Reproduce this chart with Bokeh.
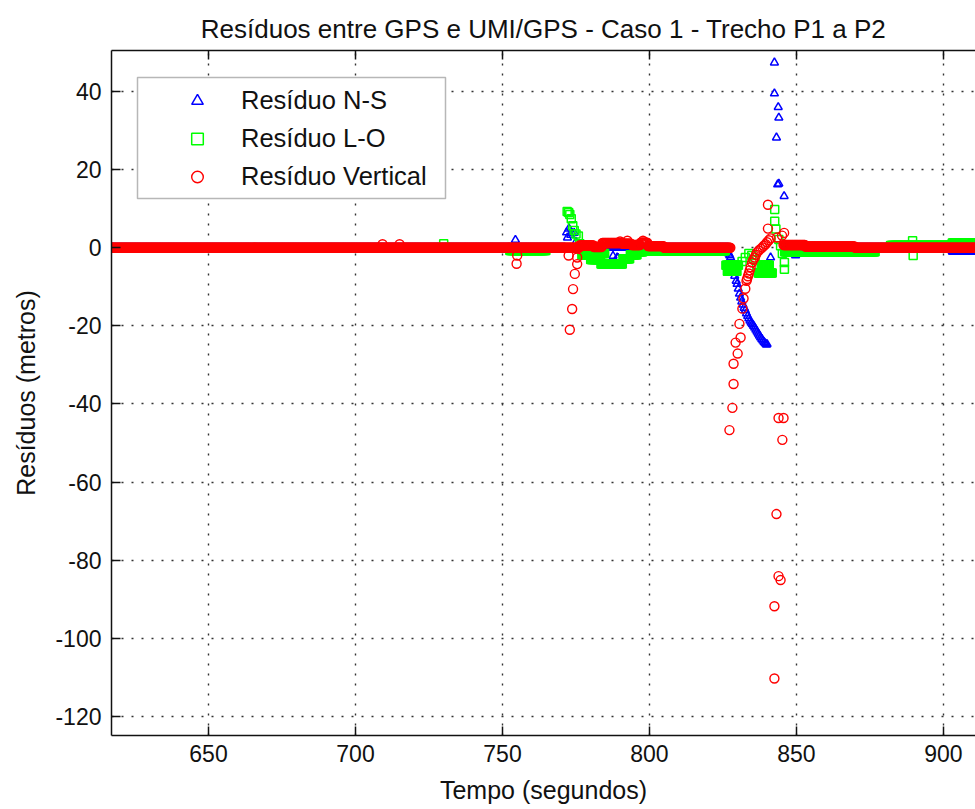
import numpy as np
from bokeh.plotting import figure
from bokeh.models import (BoxAnnotation, ColumnDataSource, FixedTicker, Legend,
                          LegendItem, LinearAxis, Range1d)
from bokeh.embed import file_html
from bokeh.resources import INLINE

# Logger sampling interval (s)
SAMPLE_DT = 0.25

X_TICKS = [650, 700, 750, 800, 850, 900]
Y_TICKS = [-120, -100, -80, -60, -40, -20, 0, 20, 40]
Y_TICK_LABELS = ["-120", "-100", "-80", "-60", "-40", "-20", "0", "20", "40"]

TITLE = "Resíduos entre GPS e UMI/GPS - Caso 1 - Trecho P1 a P2"
X_LABEL = "Tempo (segundos)"
Y_LABEL = "Resíduos (metros)"
SERIES_NAMES = ["Resíduo N-S", "Resíduo L-O", "Resíduo Vertical"]

# --- Residuo N-S -----------------------------------------------------------
# steady stretches: (start s, end s, residual m)
NS_SPANS = [(617.0, 771.5, 0.0), (776.0, 826.8, 0.0),
            (846.0, 903.0, 0.0), (903.0, 911.0, -1.0)]
# isolated samples: time (s) and residual (m)
NS_T = [754.4, 771.8, 772.1, 772.6, 773.2, 773.6, 774.4, 775.0, 775.8,
        787.6, 789.0, 789.3,
        827.0, 827.3, 827.6, 828.0, 828.5, 829.0, 829.5, 829.8, 830.2, 830.6,
        831.0, 831.4, 831.8, 832.2, 832.6, 833.0, 833.4, 833.8, 834.2, 834.6,
        835.0, 835.4, 835.8, 836.2, 836.6, 837.0, 837.4, 837.8, 838.2, 838.6,
        839.0, 839.4, 839.8, 840.0,
        841.2, 842.5, 842.5, 843.2, 843.6, 843.8, 844.0, 844.0, 845.8, 849.7]
NS_V = [2.0, 3.9, 2.6, 4.9, 3.3, 3.8, 3.8, 1.5, 0.5,
        -2.1, -2.5, -2.6,
        -1.5, -2.0, -2.5, -4.2, -5.5, -7.2, -8.5, -9.3, -10.5, -11.8,
        -12.8, -13.8, -14.6, -15.4, -16.0, -16.8, -17.5, -18.1, -18.7, -19.2,
        -19.6, -20.0, -20.5, -21.0, -21.5, -22.0, -22.5, -23.0, -23.4, -23.8,
        -24.2, -24.5, -24.8, -24.7,
        -2.5, 47.4, 39.5, 28.2, 16.2, 36.0, 33.3, 16.4, 13.2, -2.0]

# --- Residuo L-O -----------------------------------------------------------
LO_SPANS = [(617.0, 752.5, 0.0), (752.5, 765.0, -0.7), (765.0, 771.5, 0.0),
            (777.0, 780.0, -1.8), (780.0, 783.5, -3.0), (781.0, 785.0, -1.5),
            (783.5, 791.0, -4.2), (791.0, 793.5, -2.8), (793.5, 796.0, -1.8),
            (796.0, 798.0, -1.0), (798.0, 826.0, -0.8),
            (826.0, 830.5, -4.5), (826.5, 830.0, -6.0),
            (837.0, 841.8, -6.5), (838.0, 841.0, -4.5),
            (846.0, 877.0, -1.0), (877.0, 882.0, 0.0), (882.0, 903.0, 0.6),
            (903.0, 911.0, 1.2)]
LO_T = [730.0, 772.0, 772.5, 772.9, 773.4, 773.9, 774.4, 775.0, 775.8, 776.3,
        776.8,
        831.5, 832.6, 833.8, 834.8, 835.9, 836.5,
        842.6, 842.6, 843.0, 844.0, 844.6, 845.2, 845.9, 845.9,
        889.5, 889.7]
LO_V = [1.0, 9.3, 9.0, 8.5, 7.4, 5.6, 4.4, 3.5, 3.0, 1.0,
        -0.5,
        -3.5, -2.5, -1.5, -2.0, -3.0, -5.0,
        9.8, 6.8, 4.8, 2.1, 0.5, -1.5, -3.8, -5.5,
        1.8, -2.0]

# --- Residuo Vertical ------------------------------------------------------
VT_SPANS = [(617.0, 776.2, 0.0),
            (776.2, 781.0, 0.6), (781.0, 784.0, 0.2), (784.0, 791.0, 1.2),
            (791.0, 794.0, 1.0), (794.0, 797.0, 0.7), (797.0, 799.5, 1.3),
            (799.5, 805.0, 0.4), (805.0, 827.6, 0.0),
            (845.6, 853.0, 0.7), (853.0, 870.0, 0.3), (870.0, 911.0, 0.0)]
VT_T = [709.2, 715.0, 754.8, 755.0,
        772.5, 772.9, 773.7, 774.0, 774.6, 775.4, 775.4,
        790.0, 792.5, 797.8,
        827.2, 828.2, 828.6, 828.6, 829.3, 830.0, 830.6, 831.0, 831.6, 832.0,
        832.6, 833.0, 833.2, 833.5, 833.8, 834.1, 834.4, 834.9, 835.3, 835.8,
        836.2, 836.6, 837.2, 837.8, 838.4, 838.9, 839.5, 840.0, 840.6,
        840.3, 840.3, 841.2, 842.5, 842.5, 843.2, 843.4, 843.9, 843.9, 844.6,
        845.1, 845.2, 845.6, 845.8]
VT_V = [0.9, 0.9, -4.1, -2.0,
        -2.0, -21.0, -15.7, -10.6, -6.7, -2.5, -4.2,
        1.6, 1.8, 1.8,
        -46.7, -41.0, -34.9, -29.7, -24.3, -27.1, -19.5, -23.0, -15.6, -13.0,
        -10.5, -8.5, -8.0, -7.3, -6.6, -5.8, -5.0, -3.8, -3.1, -2.5,
        -1.8, -1.2, -0.7, -0.3, 0.1, 0.5, 0.9, 1.4, 1.9,
        4.9, 11.0, 2.4, -91.8, -110.3, -68.2, 2.6, -84.1, -43.6, -85.1,
        3.1, -49.2, -43.6, 3.8]


def series(spans, ev_t, ev_v):
    """Samples of the steady stretches at the logger rate, then the isolated ones."""
    ts, vs = [], []
    for start, end, level in spans:
        t = np.arange(start, end, SAMPLE_DT)
        ts.append(t)
        vs.append(np.full(t.size, level))
    ts.append(np.asarray(ev_t, dtype=float))
    vs.append(np.asarray(ev_v, dtype=float))
    return ColumnDataSource(dict(t=np.concatenate(ts), v=np.concatenate(vs)))


FONT = "Liberation Sans"
INK = "#111111"

p = figure(width=975, height=809, output_backend="svg", toolbar_location=None,
           x_range=Range1d(617.0, 910.9), y_range=Range1d(-124.9, 50.5),
           min_border_left=111, min_border_right=0, min_border_top=50,
           min_border_bottom=74, background_fill_color="white",
           border_fill_color="white", outline_line_color=None)

p.title.text = TITLE
p.title.align = "center"
p.title.text_font = FONT
p.title.text_font_size = "26px"
p.title.text_font_style = "normal"
p.title.text_color = INK
p.title.standoff = 14

for ax in (p.xaxis[0], p.yaxis[0]):
    ax.major_tick_in = 9
    ax.major_tick_out = 0
    ax.minor_tick_line_color = None
    ax.axis_line_width = 1.5
    ax.axis_line_color = INK
    ax.major_tick_line_color = INK
    ax.major_tick_line_width = 1.5
    ax.major_label_text_font = FONT
    ax.major_label_text_font_size = "23px"
    ax.major_label_text_color = INK
    ax.axis_label_text_font = FONT
    ax.axis_label_text_font_size = "25px"
    ax.axis_label_text_font_style = "normal"
    ax.axis_label_text_color = INK

p.xaxis.ticker = FixedTicker(ticks=X_TICKS)
p.yaxis.ticker = FixedTicker(ticks=Y_TICKS)
p.yaxis.major_label_overrides = dict(zip(Y_TICKS, Y_TICK_LABELS))
p.xaxis.axis_label = X_LABEL
p.yaxis.axis_label = Y_LABEL
p.xaxis.major_label_standoff = 9
p.yaxis.major_label_standoff = 10
p.xaxis.axis_label_standoff = 11
p.yaxis.axis_label_standoff = 12

# top edge of the box, ticks pointing inwards, no labels
top = LinearAxis(ticker=FixedTicker(ticks=X_TICKS), major_tick_in=9,
                 major_tick_out=0, minor_tick_line_color=None,
                 axis_line_width=1.5, axis_line_color=INK,
                 major_tick_line_color=INK, major_tick_line_width=1.5,
                 major_label_text_font_size="1px",
                 major_label_text_color=None, major_label_standoff=0)
p.add_layout(top, "above")

for g, ticks in ((p.xgrid[0], X_TICKS), (p.ygrid[0], Y_TICKS)):
    g.ticker = FixedTicker(ticks=ticks)
    g.grid_line_color = "#333333"
    g.grid_line_width = 1.4
    g.grid_line_dash = "2 8"

ns = p.scatter("t", "v", source=series(NS_SPANS, NS_T, NS_V), marker="triangle",
               size=8, fill_color=None, line_color="#0000ff", line_width=1.5)
lo = p.scatter("t", "v", source=series(LO_SPANS, LO_T, LO_V), marker="square",
               size=8, fill_color=None, line_color="#00ff00", line_width=1.5)
vt = p.scatter("t", "v", source=series(VT_SPANS, VT_T, VT_V), marker="circle",
               size=9, fill_color=None, line_color="#ff0000", line_width=1.4)

# legend frame drawn on its own, entries laid over it
legend_box = BoxAnnotation(left=137, right=445, top=77, bottom=198,
                           left_units="canvas", right_units="canvas",
                           top_units="canvas", bottom_units="canvas",
                           fill_color="white", fill_alpha=1.0,
                           line_color=INK, line_width=1.5)
p.add_layout(legend_box)

legend = Legend(items=[LegendItem(label=SERIES_NAMES[0], renderers=[ns]),
                       LegendItem(label=SERIES_NAMES[1], renderers=[lo]),
                       LegendItem(label=SERIES_NAMES[2], renderers=[vt])],
                location=(42, 544), padding=0, spacing=9, margin=0,
                glyph_width=88, glyph_height=29, label_height=29,
                label_standoff=0, label_text_font=FONT,
                label_text_font_size="25.5px", label_text_color=INK,
                border_line_color=None, background_fill_alpha=0.0)
p.add_layout(legend, "center")

open("out.html", "w").write(file_html(p, INLINE))
